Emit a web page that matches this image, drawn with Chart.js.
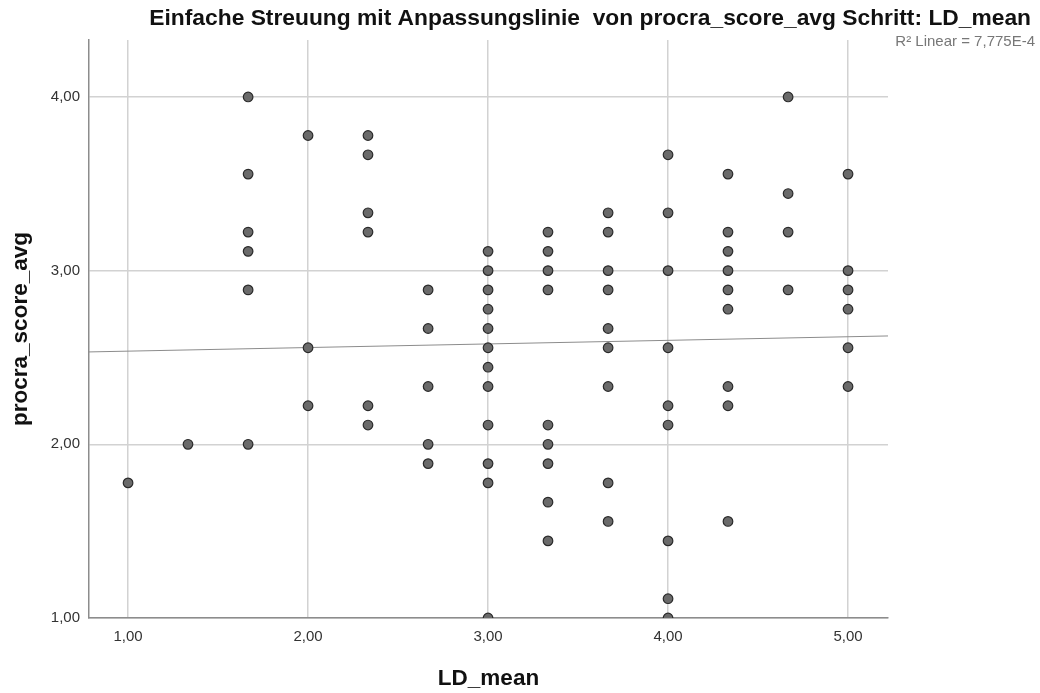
<!DOCTYPE html>
<html>
<head>
<meta charset="utf-8">
<script src="https://cdn.jsdelivr.net/npm/chart.js@4/dist/chart.umd.min.js"></script>
<style>
  html, body { margin: 0; padding: 0; background: #fff; }
  #wrap { width: 1040px; height: 693px; }
</style>
</head>
<body>
<div id="wrap"><canvas id="chart" width="1040" height="693"></canvas></div>
<script>
// Werte (x in Dritteln, y in Neunteln)
const ldMean = [
  1.000,
  1.333,
  1.667, 1.667, 1.667, 1.667, 1.667, 1.667,
  2.000, 2.000, 2.000,
  2.333, 2.333, 2.333, 2.333, 2.333, 2.333,
  2.667, 2.667, 2.667, 2.667, 2.667,
  3.000, 3.000, 3.000, 3.000, 3.000, 3.000, 3.000, 3.000, 3.000, 3.000, 3.000, 3.000,
  3.333, 3.333, 3.333, 3.333, 3.333, 3.333, 3.333, 3.333, 3.333,
  3.667, 3.667, 3.667, 3.667, 3.667, 3.667, 3.667, 3.667, 3.667,
  4.000, 4.000, 4.000, 4.000, 4.000, 4.000, 4.000, 4.000, 4.000,
  4.333, 4.333, 4.333, 4.333, 4.333, 4.333, 4.333, 4.333, 4.333,
  4.667, 4.667, 4.667, 4.667,
  5.000, 5.000, 5.000, 5.000, 5.000, 5.000
];
const procraScore = [
  1.778,
  2.000,
  4.000, 3.556, 3.222, 3.111, 2.889, 2.000,
  3.778, 2.556, 2.222,
  3.778, 3.667, 3.333, 3.222, 2.222, 2.111,
  2.889, 2.667, 2.333, 2.000, 1.889,
  3.111, 3.000, 2.889, 2.778, 2.667, 2.556, 2.444, 2.333, 2.111, 1.889, 1.778, 1.000,
  3.222, 3.111, 3.000, 2.889, 2.111, 2.000, 1.889, 1.667, 1.444,
  3.333, 3.222, 3.000, 2.889, 2.667, 2.556, 2.333, 1.778, 1.556,
  3.667, 3.333, 3.000, 2.556, 2.222, 2.111, 1.444, 1.111, 1.000,
  3.556, 3.222, 3.111, 3.000, 2.889, 2.778, 2.333, 2.222, 1.556,
  4.000, 3.444, 3.222, 2.889,
  3.556, 3.000, 2.889, 2.778, 2.556, 2.333
];

// Anpassungslinie (Endpunkte am Rand der Achsen)
const fitX = [0.783, 5.222];
const fitY = [2.532, 2.624];

const xTicks = [1, 2, 3, 4, 5];
const yTicks = [1, 2, 3, 4];
const xRange = [0.783, 5.222];
const yRange = [1.0, 4.328];

const chartTitle = "Einfache Streuung mit Anpassungslinie  von procra_score_avg Schritt: LD_mean";
const r2Label = "R\u00b2 Linear = 7,775E-4";
const xTitle = "LD_mean";
const yTitle = "procra_score_avg";

const FONT = "Arial, 'Liberation Sans', sans-serif";

const fmt = v => v.toFixed(2).replace(".", ",");

// Titel und R²-Text direkt auf die Leinwand schreiben
const textPlugin = {
  id: "spssText",
  afterDraw(chart) {
    const ctx = chart.ctx;
    ctx.save();
    ctx.fillStyle = "#111";
    ctx.font = "bold 22.8px " + FONT;
    ctx.textAlign = "right";
    ctx.textBaseline = "middle";
    ctx.fillText(chartTitle, 1031, 19);
    ctx.fillStyle = "#777";
    ctx.font = "15px " + FONT;
    ctx.fillText(r2Label, 1035, 42);
    ctx.restore();
  }
};

const points = ldMean.map((x, i) => ({ x: x, y: procraScore[i] }));
const fitLine = fitX.map((x, i) => ({ x: x, y: fitY[i] }));

new Chart(document.getElementById("chart"), {
  type: "scatter",
  data: {
    datasets: [
      {
        type: "line",
        data: fitLine,
        borderColor: "#8c8c8c",
        borderWidth: 1,
        pointRadius: 0,
        fill: false,
        order: 2,
      },
      {
        data: points,
        backgroundColor: "#6a6a6a",
        borderColor: "#2a2a2a",
        borderWidth: 1.2,
        pointRadius: 4.8,
        clip: 0,
        order: 1,
      },
    ],
  },
  options: {
    responsive: false,
    animation: false,
    events: [],
    layout: { padding: { top: 40, right: 152, left: 0, bottom: 0 } },
    plugins: {
      legend: { display: false },
      tooltip: { enabled: false },
      title: { display: false },
    },
    scales: {
      x: {
        type: "linear",
        min: xRange[0],
        max: xRange[1],
        afterBuildTicks: s => { s.ticks = xTicks.map(v => ({ value: v })); },
        afterFit: s => { s.height = 75; },
        grid: { color: "#d2d2d2", lineWidth: 1.5, drawTicks: false },
        border: { color: "#8c8c8c", width: 1.5 },
        ticks: {
          padding: 10,
          color: "#333",
          font: { family: FONT, size: 15 },
          callback: v => fmt(v),
        },
        title: {
          display: true,
          text: xTitle,
          color: "#111",
          font: { family: FONT, size: 22.5, weight: "bold" },
          padding: { top: 0, bottom: 1 },
        },
      },
      y: {
        type: "linear",
        min: yRange[0],
        max: yRange[1],
        afterBuildTicks: s => { s.ticks = yTicks.map(v => ({ value: v })); },
        afterFit: s => { s.width = 89; },
        grid: { color: "#d2d2d2", lineWidth: 1.5, drawTicks: false },
        border: { color: "#8c8c8c", width: 1.5 },
        ticks: {
          padding: 9,
          color: "#333",
          font: { family: FONT, size: 15 },
          callback: v => fmt(v),
        },
        title: {
          display: true,
          text: yTitle,
          color: "#111",
          font: { family: FONT, size: 22.5, weight: "bold" },
          padding: { top: 7, bottom: 0 },
        },
      },
    },
  },
  plugins: [textPlugin],
});
</script>
</body>
</html>
